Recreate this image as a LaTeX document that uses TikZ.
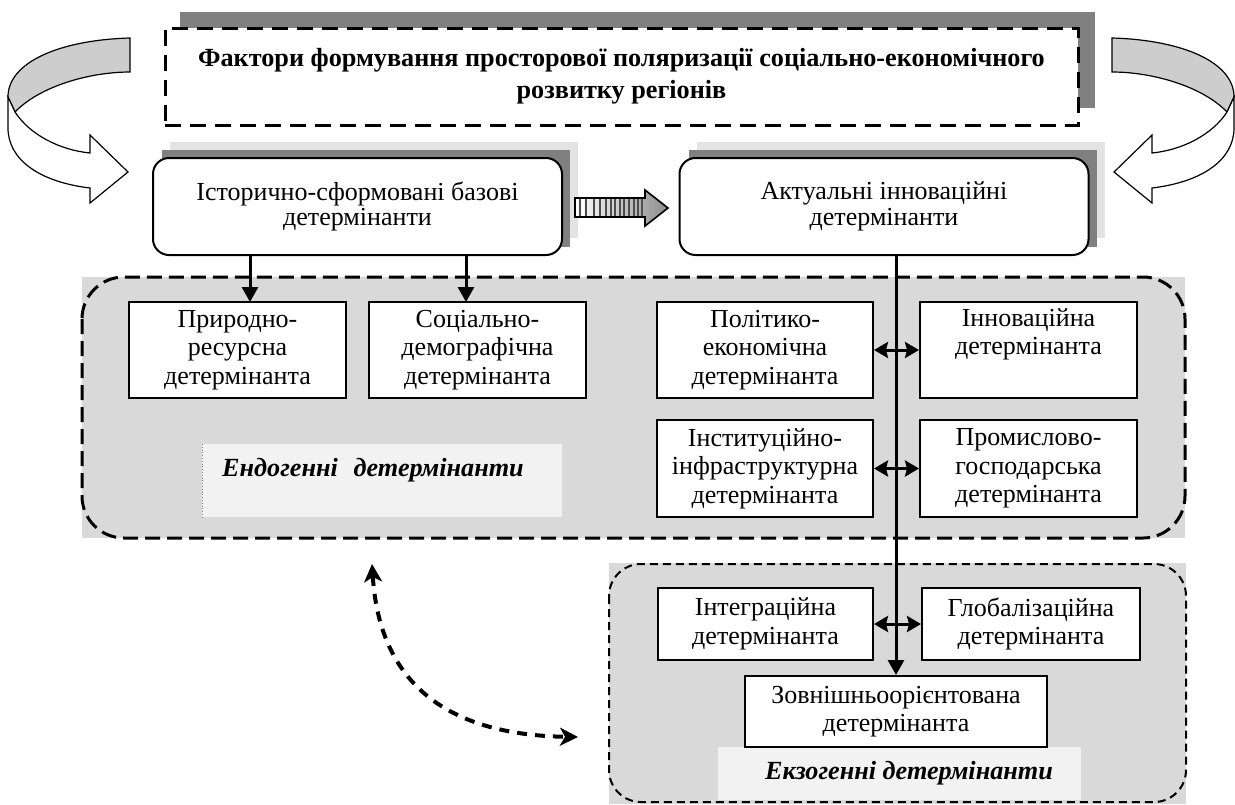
\documentclass[tikz,border=0pt]{standalone}
\usepackage{fontspec}
\setmainfont{Liberation Serif}
\usetikzlibrary{arrows.meta}
\definecolor{contgray}{HTML}{D9D9D9}
\definecolor{lblgray}{HTML}{F2F2F2}
\definecolor{shdark}{HTML}{808080}
\definecolor{shlight}{HTML}{E3E3E3}
\definecolor{ribgray}{HTML}{CDCDCD}
\begin{document}
\begin{tikzpicture}[x=0.5pt,y=-0.5pt,
  every node/.style={font=\fontsize{13pt}{14.25pt}\selectfont, align=center, inner sep=0pt},
  bx/.style={draw, line width=1pt, fill=white, minimum height=48pt},
  rbx/.style={draw, line width=1pt, fill=white, rounded corners=8pt, minimum width=204.5pt, minimum height=48.5pt, font=\fontsize{13pt}{12.75pt}\selectfont},
  ttl/.style={draw, line width=1.5pt, dash pattern=on 8pt off 4.5pt, fill=white, minimum width=456.5pt, minimum height=48.5pt, font=\bfseries\fontsize{13.1pt}{16pt}\selectfont},
  lbl/.style={font=\bfseries\itshape\fontsize{13.1pt}{14pt}\selectfont},
  down/.style={-{Triangle[length=7.5pt,width=8pt]}, line width=1.5pt},
  both/.style={{Stealth[length=7pt,width=8pt,inset=1pt]}-{Stealth[length=7pt,width=8pt,inset=1pt]}, line width=1.5pt},
  ribbon/.style={draw, line width=0.6pt}
]
\useasboundingbox (0,0) rectangle (1235,804);

% ---------- side curved arrows ----------
\begin{scope}
  \path[ribbon, fill=ribgray] (130,38) .. controls (60,40) and (8,62) .. (8,97) -- (15,112) .. controls (40,86) and (90,72) .. (130,72) -- cycle;
  \path[ribbon, fill=white] (15,112) .. controls (30,135) and (60,150) .. (90,153) -- (90,135) -- (128,172) -- (90,203) -- (90,188) .. controls (40,182) and (8,160) .. (8,128) -- (8,97) -- cycle;
\end{scope}
\begin{scope}[xshift=621pt, xscale=-1]
  \path[ribbon, fill=ribgray] (130,38) .. controls (60,40) and (8,62) .. (8,97) -- (15,112) .. controls (40,86) and (90,72) .. (130,72) -- cycle;
  \path[ribbon, fill=white] (15,112) .. controls (30,135) and (60,150) .. (90,153) -- (90,135) -- (128,172) -- (90,203) -- (90,188) .. controls (40,182) and (8,160) .. (8,128) -- (8,97) -- cycle;
\end{scope}

% ---------- title ----------
\fill[shdark] (180,12) rectangle (1095,108);
\node[ttl] (title) at (621.5,76.5) {Фактори формування просторової поляризації соціально-економічного\\розвитку регіонів};

% ---------- upper boxes ----------
\fill[shlight] (170,142) rectangle (578,238);
\fill[shdark] (162,150) rectangle (570,247);
\node[rbx] (b1) at (357.5,206.5) {Історично-сформовані базові\\детермінанти};
\fill[shlight] (697,142) rectangle (1105,238);
\fill[shdark] (689,150) rectangle (1097,247);
\node[rbx] (b2) at (884,206.5) {Актуальні інноваційні\\детермінанти};

% ---------- striped arrow between upper boxes ----------
\path[left color=white, right color=black!45] (575,198) -- (645,198) -- (645,190) -- (668,208) -- (645,226) -- (645,217) -- (575,217) -- cycle;
\foreach \xx in {580,586,594,600,606,611,615,620,624,629,634,638,642}
  \draw[line width=0.6pt, black!70] (\xx,198) -- (\xx,217);
\draw[line width=1pt, white] (583,198) -- (583,217);
\draw[line width=0.8pt] (575,198) -- (645,198) -- (645,190) -- (668,208) -- (645,226) -- (645,217) -- (575,217) -- cycle;

% ---------- endogenous container ----------
\fill[contgray] (82,277) rectangle (1185,538);
\draw[line width=1.5pt, dash pattern=on 7.5pt off 3.5pt, rounded corners=21pt] (82,277) rectangle (1185,538);

\fill[lblgray] (202,444) rectangle (562,517);
\draw[densely dotted, black!50, line width=0.4pt] (202,444) -- (202,517);
\node[lbl] (endolbl) at (373,470) {Ендогенні\hspace{0.6em}детермінанти};

\node[bx, minimum width=108.5pt] (pr) at (237.5,350) {Природно-\\ресурсна\\детермінанта};
\node[bx, minimum width=108.5pt] (so) at (477.5,350) {Соціально-\\демографічна\\детермінанта};
\node[bx, minimum width=108pt] (po) at (765,350) {Політико-\\економічна\\детермінанта};
\node[bx, minimum width=108.5pt] (inn) at (1028.5,350) {Інноваційна\\детермінанта\\\strut};
\node[bx, minimum width=108pt, minimum height=48.5pt] (ist) at (765,468.5) {Інституційно-\\інфраструктурна\\детермінанта};
\node[bx, minimum width=108.5pt, minimum height=48.5pt] (pg) at (1028.5,468.5) {Промислово-\\господарська\\детермінанта};

% ---------- exogenous container ----------
\fill[contgray] (609,563) rectangle (1186,804);
\draw[line width=1pt, dash pattern=on 4pt off 2.5pt, rounded corners=16pt] (609,564) rectangle (1186,802);

\fill[lblgray] (718,747) rectangle (1081,800);
\node[lbl] (exolbl) at (909,773) {Екзогенні детермінанти};

\node[bx, minimum width=107.5pt, minimum height=36pt] (ig) at (765.5,624) {Інтеграційна\\детермінанта};
\node[bx, minimum width=109pt, minimum height=36pt] (gl) at (1031,624) {Глобалізаційна\\детермінанта};
\node[bx, minimum width=151pt, minimum height=35.5pt] (zv) at (896,711.5) {Зовнішньоорієнтована\\детермінанта};

% ---------- connectors ----------
\coordinate (t1) at (250,302);
\coordinate (t2) at (466,302);
\draw[down] (t1 |- b1.south) -- (t1);
\draw[down] (t2 |- b1.south) -- (t2);

\draw[down] (zv.north |- b2.south) -- (zv.north);

\draw[both] (po.east) -- (inn.west);
\draw[both] (ist.east) -- (pg.west);
\draw[both] (ig.east) -- (gl.west);

\coordinate (c1) at (372,564);
\coordinate (c2) at (578,737);
\draw[{Stealth[length=9pt,width=9pt,inset=2.5pt]}-{Stealth[length=9pt,width=9pt,inset=2.5pt]}, line width=2pt, dash pattern=on 5pt off 4pt]
  (c1) .. controls (380,690) and (455,735) .. (c2);
\end{tikzpicture}
\end{document}
